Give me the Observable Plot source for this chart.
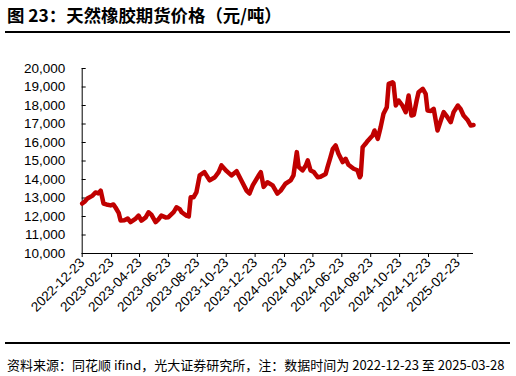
<!DOCTYPE html>
<html><head><meta charset="utf-8">
<script src="https://cdn.jsdelivr.net/npm/d3@7"></script>
<script src="https://cdn.jsdelivr.net/npm/@observablehq/plot@0.6"></script>
<style>
body{margin:0;background:#fff;width:516px;height:376px;position:relative;overflow:hidden;}
#title{position:absolute;left:7px;top:6px;font:bold 17.4px/17px "Noto Sans CJK SC";color:#000;white-space:nowrap;}
.rule{position:absolute;left:5px;width:505px;height:2px;background:#000;}
#chart{position:absolute;left:0;top:35px;}
#src{position:absolute;left:7px;top:358px;font:13px/13px "Noto Sans CJK SC";color:#000;white-space:nowrap;}
</style></head><body>
<div id="title">图 23：天然橡胶期货价格（元/吨）</div>
<div class="rule" style="top:31px"></div>
<div id="chart"></div>
<div class="rule" style="top:342px"></div>
<div id="src">资料来源：同花顺 ifind，光大证券研究所，注：数据时间为 2022-12-23 至 2025-03-28</div>
<script>
const dates = ["2022-12-23","2022-12-28","2023-01-03","2023-01-14","2023-01-20","2023-01-26","2023-01-31","2023-02-06","2023-02-12","2023-02-21","2023-02-27","2023-03-03","2023-03-10","2023-03-14","2023-03-22","2023-03-29","2023-04-04","2023-04-15","2023-04-21","2023-04-27","2023-05-06","2023-05-12","2023-05-18","2023-05-27","2023-06-02","2023-06-08","2023-06-17","2023-06-23","2023-07-04","2023-07-10","2023-07-17","2023-07-21","2023-07-31","2023-08-05","2023-08-09","2023-08-15","2023-08-21","2023-08-28","2023-09-07","2023-09-18","2023-09-29","2023-10-07","2023-10-13","2023-10-24","2023-11-03","2023-11-14","2023-11-24","2023-12-05","2023-12-11","2023-12-18","2023-12-30","2024-01-04","2024-01-10","2024-01-18","2024-01-29","2024-02-08","2024-02-15","2024-02-25","2024-03-07","2024-03-13","2024-03-20","2024-03-24","2024-04-01","2024-04-08","2024-04-12","2024-04-18","2024-04-25","2024-05-03","2024-05-09","2024-05-20","2024-05-24","2024-05-30","2024-06-04","2024-06-10","2024-06-16","2024-06-25","2024-07-01","2024-07-07","2024-07-18","2024-07-26","2024-07-31","2024-08-02","2024-08-06","2024-08-12","2024-08-17","2024-08-27","2024-08-31","2024-09-07","2024-09-13","2024-09-19","2024-09-26","2024-09-30","2024-10-08","2024-10-10","2024-10-15","2024-10-21","2024-10-29","2024-11-05","2024-11-11","2024-11-17","2024-11-22","2024-11-28","2024-12-02","2024-12-11","2024-12-17","2024-12-21","2024-12-28","2025-01-03","2025-01-11","2025-01-18","2025-01-24","2025-02-01","2025-02-08","2025-02-14","2025-02-23","2025-03-01","2025-03-07","2025-03-16","2025-03-22","2025-03-28"];
const prices = [12700,12800,12970,13130,13300,13250,13400,12700,12650,12600,12650,12500,12200,11780,11800,11890,11700,11890,12050,11780,11950,12230,12100,11700,11850,12050,11950,11960,12230,12500,12400,12230,12050,12000,13040,13040,13300,14220,14400,13950,14120,14400,14760,14450,14220,14450,13950,13400,13240,13680,14200,14400,13600,13850,13680,13240,13400,13770,13950,14220,15480,14680,14490,14760,15030,14490,14400,14120,14150,14300,14680,15200,15650,15840,15390,14940,15120,14800,14580,14500,14120,14220,15750,15930,16100,16380,16650,16200,16830,17550,17910,19170,19260,19200,18000,18270,18000,17640,18540,17460,17500,18270,18720,18900,18630,17730,17700,17820,16650,17190,17640,17370,17100,17640,18000,17800,17460,17200,16920,16950];
const yTicks = [10000,11000,12000,13000,14000,15000,16000,17000,18000,19000,20000];
const xTickLabels = ["2022-12-23","2023-02-23","2023-04-23","2023-06-23","2023-08-23","2023-10-23","2023-12-23","2024-02-23","2024-04-23","2024-06-23","2024-08-23","2024-10-23","2024-12-23","2025-02-23"];
const xStart = "2022-12-23", xEnd = "2025-03-28";

const data = dates.map((d, i) => ({date: new Date(d), price: prices[i]}));
const xTicks = xTickLabels.map(d => new Date(d));
const W = 516, H = 300, mL = 81.7, mR = 43, mT = 33, mB = 82;
const chart = Plot.plot({
  width: W, height: H,
  marginLeft: mL, marginRight: mR, marginTop: mT, marginBottom: mB,
  style: {fontFamily: "'Liberation Sans', Arial, sans-serif", fontSize: "13.5px", color: "#000", background: "transparent", overflow: "visible"},
  x: {type: "utc", domain: [new Date(xStart), new Date(xEnd)]},
  y: {domain: [10000, 20000]},
  marks: [
    Plot.axisY(yTicks, {tickSize: 0, tickPadding: 17, tickFormat: d3.format(","), label: null, fill: "#000"}),
    Plot.ruleY(yTicks, {y: d => d, insetRight: W - mL - mR - 4, stroke: "#000"}),
    Plot.axisX(xTicks, {tickSize: 4, tickPadding: 3, tickRotate: -45, tickFormat: d3.utcFormat("%Y-%m-%d"), label: null, fill: "#000", stroke: "#000"}),
    Plot.ruleX([new Date(xStart)], {x: d => d, y1: 10000, y2: 20000, stroke: "#000"}),
    Plot.ruleY([10000], {stroke: "#000"}),
    Plot.lineY(data, {x: "date", y: "price", stroke: "#c00000", strokeWidth: 4.5, strokeLinejoin: "round", strokeLinecap: "round"})
  ]
});
document.getElementById("chart").appendChild(chart);
</script>
</body></html>
